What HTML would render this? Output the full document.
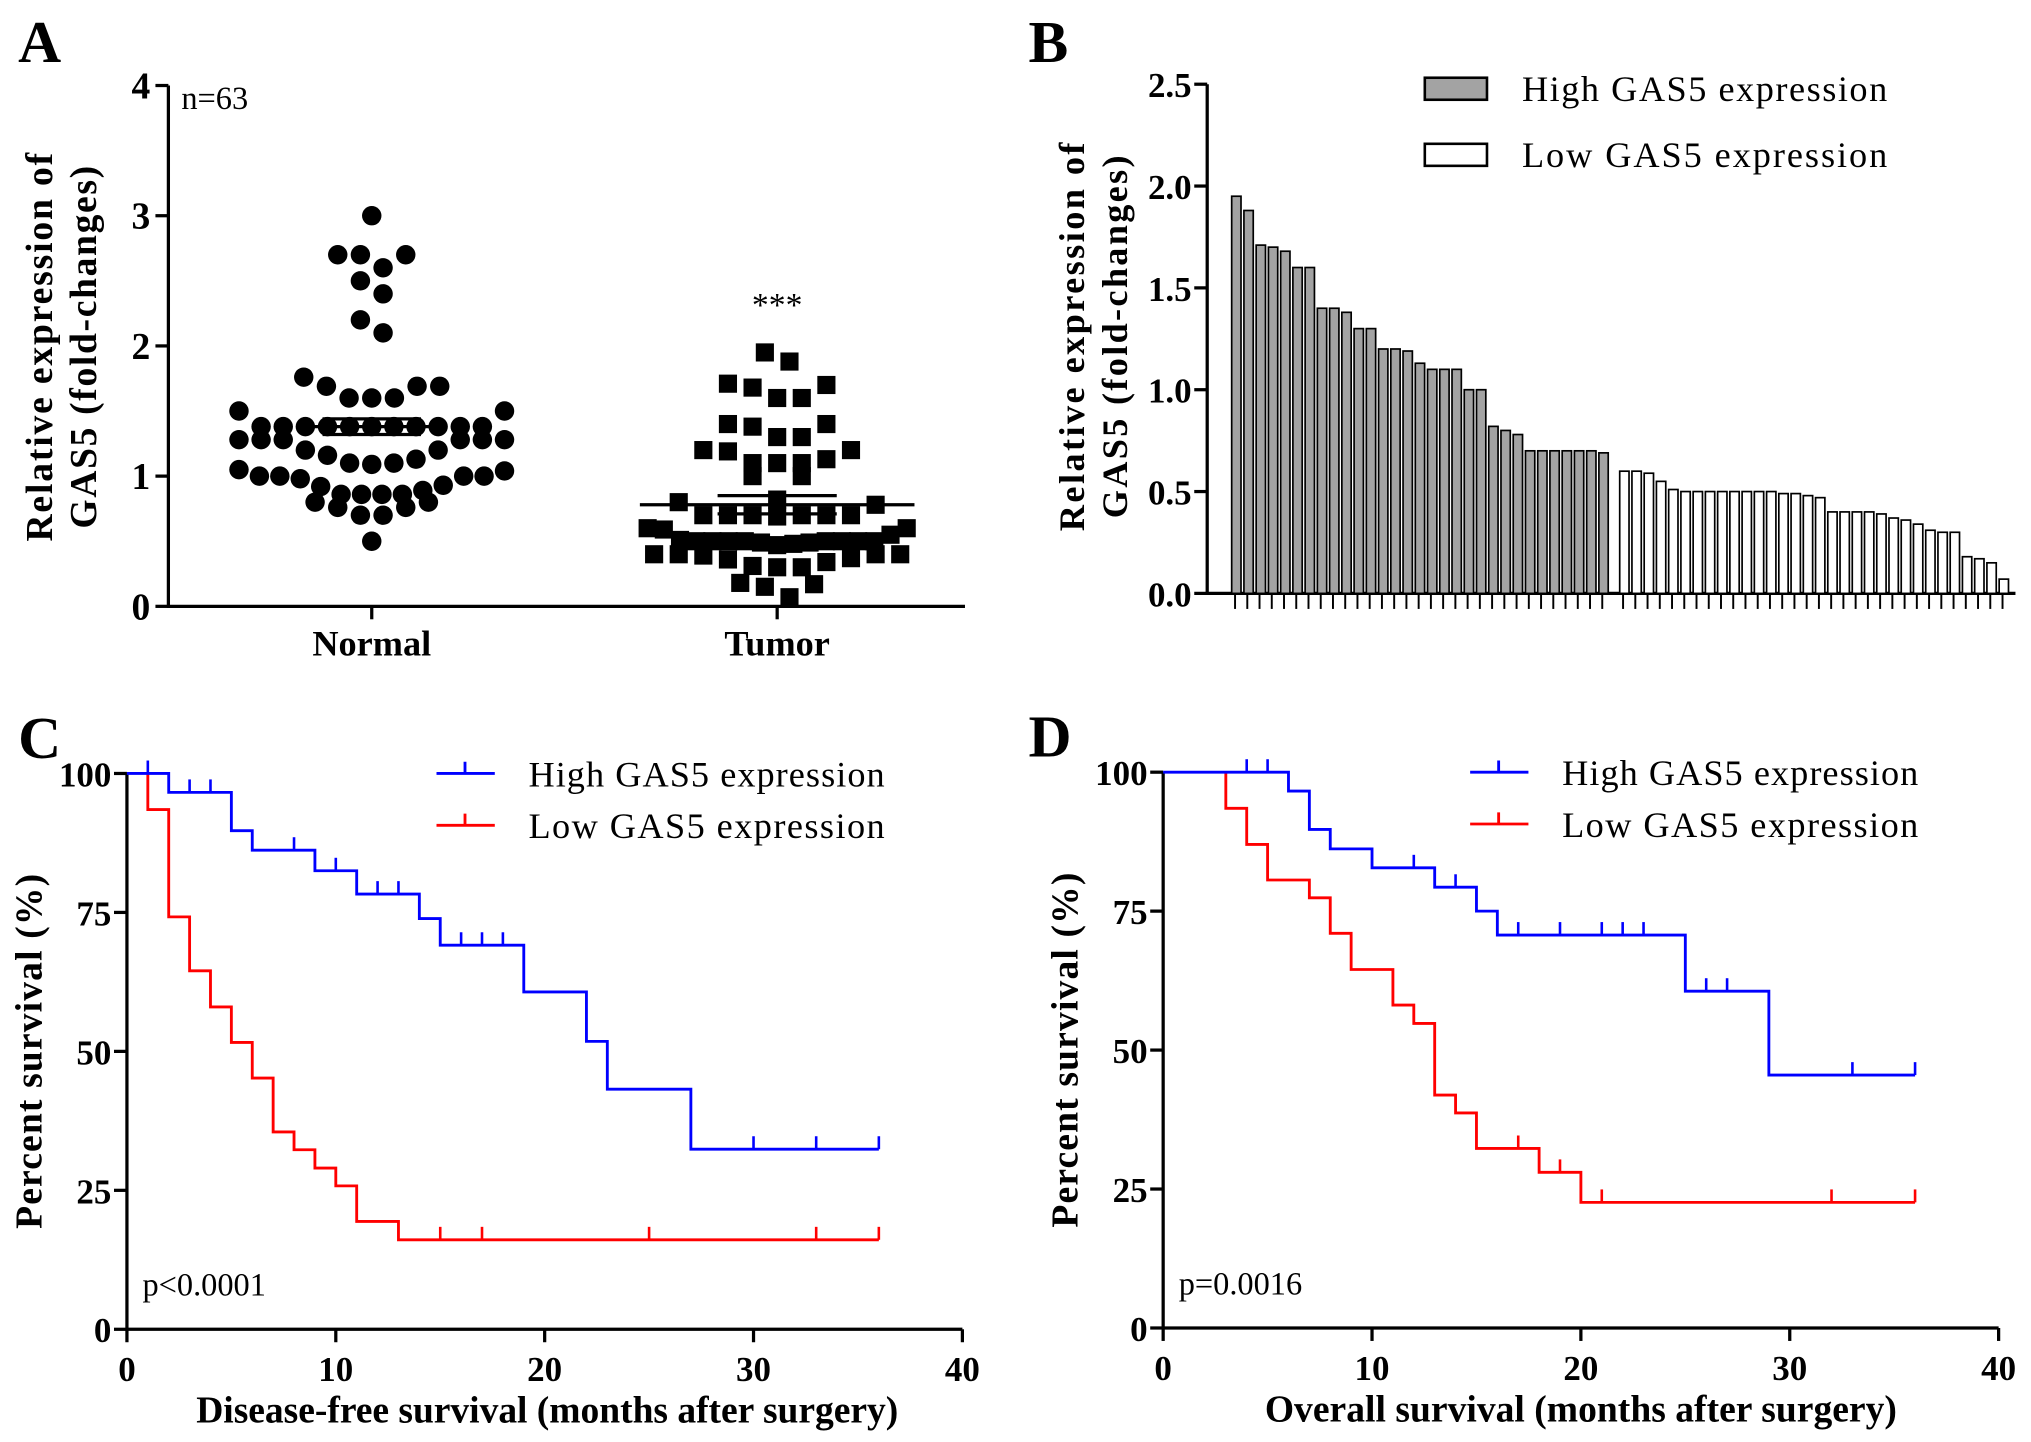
<!DOCTYPE html>
<html><head><meta charset="utf-8"><style>
html,body{margin:0;padding:0;background:#fff;}
svg{display:block;}
text{font-family:"Liberation Serif",serif;fill:#000;}
.b{font-weight:bold;}
</style></head><body>
<svg id="fig" xmlns="http://www.w3.org/2000/svg" width="2031" height="1442" viewBox="0 0 1568 1113" preserveAspectRatio="none">
<g id="pA"></g>
<g id="pB"></g>
<g id="pC"></g>
<g id="pD"></g>
</svg>
<script>
// ---------- data ----------
const normalValues = [3.0,2.7,2.7,2.7,2.6,2.5,2.4,2.2,2.1,1.76,1.69,1.69,1.69,1.6,1.6,1.6,1.5,1.5,
 1.38,1.38,1.38,1.38,1.38,1.38,1.38,1.38,1.38,1.38,1.38,1.28,1.28,1.28,1.28,1.28,1.28,1.2,1.2,
 1.16,1.13,1.1,1.1,1.09,1.05,1.04,1.0,1.0,1.0,1.0,0.98,
 0.93,0.92,0.89,0.86,0.86,0.86,0.86,0.8,0.8,0.76,0.76,0.7,0.7,0.5];
const normalMean = 1.38, normalSem = 0.06;
const tumorMean = 0.78, tumorSem = 0.07;
const highBars = [1.95,1.88,1.71,1.70,1.68,1.60,1.60,1.40,1.40,1.38,1.30,1.30,1.20,1.20,1.19,1.13,1.10,1.10,1.10,1.00,1.00,0.82,0.80,0.78,0.70,0.70,0.70,0.70,0.70,0.70,0.69];
const lowBars = [0.60,0.60,0.59,0.55,0.51,0.50,0.50,0.50,0.50,0.50,0.50,0.50,0.50,0.49,0.49,0.48,0.47,0.40,0.40,0.40,0.40,0.39,0.37,0.36,0.34,0.31,0.30,0.30,0.18,0.17,0.15,0.07];
const tumorValues = highBars.concat(lowBars);
const aTicks = [0,1,2,3,4];
const bTicks = ["0.0","0.5","1.0","1.5","2.0","2.5"];
const kmYTicks = [0,25,50,75,100];
const kmXTicks = [0,10,20,30,40];
const cHighT = [0,2,5,6,9,11,14,15,19,22,23,27], cHighS = [100,96.6,89.7,86.2,82.5,78.3,73.9,69.1,60.7,51.8,43.2,32.4], cHighEnd = 36;
const cHighCens = [1,3,4,8,10,12,13,16,17,18,30,33,36];
const cLowT = [1,2,3,4,5,6,7,8,9,10,11,13], cLowS = [93.5,74.2,64.5,58,51.6,45.2,35.5,32.3,29,25.8,19.4,16.1], cLowEnd = 36, cLowStart = 100;
const cLowCens = [15,17,25,33,36];
const dHighT = [0,6,7,8,10,13,15,16,25,29], dHighS = [100,96.6,89.7,86.2,82.8,79.3,75,70.7,60.6,45.5], dHighEnd = 36;
const dHighCens = [4,5,12,14,17,19,21,22,23,26,27,33,36];
const dLowT = [3,4,5,7,8,9,11,12,13,14,15,18,20], dLowS = [93.5,87,80.6,77.4,71,64.5,58.1,54.8,41.9,38.7,32.3,28,22.6], dLowEnd = 36;
const dLowCens = [17,19,21,32,36];

const NS="http://www.w3.org/2000/svg";
function mk(parent,tag,attrs,txt){const e=document.createElementNS(NS,tag);for(const k in attrs)e.setAttribute(k,attrs[k]);if(txt!==undefined)e.textContent=txt;parent.appendChild(e);return e;}

// ---------- Panel A ----------
(function(){
 const g=document.getElementById('pA');
 const x0=130,xEnd=745,y0=468,yTop=66;
 const y=v=>y0-(v/4)*(y0-yTop);
 const xN=287,xT=600;
 let t=mk(g,'text',{x:14,y:48,'font-size':46,class:'b'},'A');
 
 let ax=mk(g,'path',{d:`M${x0},${yTop} V${y0} H${xEnd}`,stroke:'#000','stroke-width':2.5,fill:'none'});
 
 aTicks.forEach(v=>{
  const tk=mk(g,'line',{x1:x0-10,x2:x0,y1:y(v),y2:y(v),stroke:'#000','stroke-width':2.5});
  
  const l=mk(g,'text',{x:x0-14,y:y(v)+10,'font-size':29,'text-anchor':'end',class:'b'},String(v));
  
 });
 [[xN,'Normal'],[xT,'Tumor']].forEach(([xx,s])=>{
  const tk=mk(g,'line',{x1:xx,x2:xx,y1:y0,y2:y0+10,stroke:'#000','stroke-width':2.5});
  
  const l=mk(g,'text',{x:xx,y:y0+38,'font-size':28,'text-anchor':'middle',class:'b'},s);
  
 });
 const yt=mk(g,'text',{transform:'translate(40,268) rotate(-90)','font-size':29,'text-anchor':'middle',class:'b',textLength:300},'Relative expression of');
 
 const yt2=mk(g,'text',{transform:'translate(74,268) rotate(-90)','font-size':29,'text-anchor':'middle',class:'b',textLength:280},'GAS5 (fold-changes)');
 
 const n=mk(g,'text',{x:140,y:84,'font-size':25},'n=63');
 
 const st=mk(g,'text',{x:xT,y:244,'font-size':26,'text-anchor':'middle'},'***');
 
 function swarm(vals,cx,tol,sp,maxW){
  const s=vals.slice().sort((a,b)=>b-a);const rows=[];
  s.forEach(v=>{const r=rows[rows.length-1];if(r&&r[0]-v<tol)r.push(v);else rows.push([v]);});
  const out=[];
  rows.forEach(r=>{
   const n=r.length;const spc=n>1?Math.min(sp,maxW/(n-1)):sp;
   // highest values at outer positions (V shape)
   const pos=[];let lo=0,hi=n-1,k=0;
   while(lo<=hi){if(k%2===0){pos.push(lo);lo++;}else{pos.push(hi);hi--;}k++;}
   r.forEach((v,i)=>{out.push([cx+(pos[i]-(n-1)/2)*spc,v]);});
  });
  return out;
 }
 swarm(normalValues,xN,0.195,17.5,205).forEach(([px,v])=>{
  const c=mk(g,'circle',{cx:px,cy:y(v),r:7.5,fill:'#000'});
  
 });
 swarm(tumorValues,xT,0.195,19,200).forEach(([px,v])=>{
  const r=mk(g,'rect',{x:px-7,y:y(v)-7,width:14,height:14,fill:'#000'});
  
 });
 [[xN,normalMean,normalSem,52,38],[xT,tumorMean,tumorSem,106,46]].forEach(([cx,m,s,w,ew])=>{
  const ml=mk(g,'path',{d:`M${cx-w},${y(m)} H${cx+w} M${cx-ew},${y(m+s)} H${cx+ew} M${cx-ew},${y(m-s)} H${cx+ew} M${cx},${y(m+s)} V${y(m-s)}`,stroke:'#000','stroke-width':2.5,fill:'none'});
  
 });
})();

// ---------- Panel B ----------
(function(){
 const g=document.getElementById('pB');
 const x0=932,xEnd=1556,y0=458,yTop=65;
 const y=v=>y0-(v/2.5)*(y0-yTop);
 const s=9.45,first=953.5,gap=0.7,bw=7.2;
 let t=mk(g,'text',{x:794,y:48,'font-size':46,class:'b'},'B');
 
 const ax=mk(g,'path',{d:`M${x0},${yTop} V${y0} H${xEnd}`,stroke:'#000','stroke-width':2.5,fill:'none'});
 
 bTicks.forEach(lbl=>{const v=parseFloat(lbl);
  const tk=mk(g,'line',{x1:x0-10,x2:x0,y1:y(v),y2:y(v),stroke:'#000','stroke-width':2.5});
  
  const l=mk(g,'text',{x:x0-12,y:y(v)+10,'font-size':27,'text-anchor':'end',class:'b'},lbl);
  
 });
 const yt=mk(g,'text',{transform:'translate(837,260) rotate(-90)','font-size':28,'text-anchor':'middle',class:'b',textLength:300},'Relative expression of');
 
 const yt2=mk(g,'text',{transform:'translate(870,260) rotate(-90)','font-size':28,'text-anchor':'middle',class:'b',textLength:280},'GAS5 (fold-changes)');
 
 function bar(v,i,extra,fill,name){
  const cx=first+(i+extra)*s;
  const r=mk(g,'rect',{x:cx-bw/2+1,y:y(v),width:bw,height:y0-y(v),fill:fill,stroke:'#000','stroke-width':1.3});
  
  const tk=mk(g,'line',{x1:cx,x2:cx,y1:y0,y2:y0+12,stroke:'#000','stroke-width':1.5});
  
 }
 highBars.forEach((v,i)=>bar(v,i,0,'#a3a3a3','high-bar'));
 lowBars.forEach((v,i)=>bar(v,i+highBars.length,gap,'#fff','low-bar'));
 [[60,'#a3a3a3','High GAS5 expression'],[111,'#fff','Low GAS5 expression']].forEach(([yy,f,s2])=>{
  const r=mk(g,'rect',{x:1100,y:yy,width:48,height:17,fill:f,stroke:'#000','stroke-width':2});
  
  const l=mk(g,'text',{x:1175,y:yy+18,'font-size':28,textLength:282},s2);
  
 });
})();

// ---------- KM panels ----------
function km(gid,letter,x0,xEnd,yTop,y0,xTitle,pText,hi,lo,legX,legY){
 const g=document.getElementById(gid);
 const x=v=>x0+(v/40)*(xEnd-x0), y=v=>y0-(v/100)*(y0-yTop);
 let t=mk(g,'text',{x:letter==='C'?14:794,y:yTop-12,'font-size':46,class:'b'},letter);
 
 const ax=mk(g,'path',{d:`M${x0},${yTop} V${y0} H${xEnd}`,stroke:'#000','stroke-width':2.5,fill:'none'});
 
 kmYTicks.forEach(v=>{
  const tk=mk(g,'line',{x1:x0-10,x2:x0,y1:y(v),y2:y(v),stroke:'#000','stroke-width':2.5});
  
  const l=mk(g,'text',{x:x0-12,y:y(v)+10,'font-size':27,'text-anchor':'end',class:'b'},String(v));
  
 });
 kmXTicks.forEach(v=>{
  const tk=mk(g,'line',{x1:x(v),x2:x(v),y1:y0,y2:y0+10,stroke:'#000','stroke-width':2.5});
  
  const l=mk(g,'text',{x:x(v),y:y0+40,'font-size':27,'text-anchor':'middle',class:'b'},String(v));
  
 });
 const xt=mk(g,'text',{x:(x0+xEnd)/2+(letter==='C'?2:0),y:y0+72,'font-size':29,'text-anchor':'middle',class:'b',textLength:letter==='C'?542:488},xTitle);
 
 const yt=mk(g,'text',{transform:`translate(${x0-66},${(yTop+y0)/2}) rotate(-90)`,'font-size':29,'text-anchor':'middle',class:'b',textLength:274},'Percent survival (%)');
 
 const p=mk(g,'text',{x:x0+12,y:y0-26,'font-size':25},pText);
 
 function curve(T,S,end,cens,startS,color,name){
  let d='';
  if(startS!==undefined){d=`M${x(T[0])},${y(startS)} V${y(S[0])}`;} else d=`M${x(T[0])},${y(S[0])}`;
  for(let i=1;i<T.length;i++){d+=` H${x(T[i])} V${y(S[i])}`;}
  d+=` H${x(end)}`;
  const pth=mk(g,'path',{d:d,stroke:color,'stroke-width':2.2,fill:'none'});
  
  cens.forEach(c=>{let sv=S[0];for(let i=0;i<T.length;i++){if(T[i]<=c)sv=S[i];}
   if(startS!==undefined&&c<T[0])sv=startS;
   const m=mk(g,'line',{x1:x(c),x2:x(c),y1:y(sv),y2:y(sv)-10,stroke:color,'stroke-width':2});
   });
 }
 curve(lo.T,lo.S,lo.end,lo.cens,lo.start,'#ff0000','low-gas5');
 curve(hi.T,hi.S,hi.end,hi.cens,undefined,'#0000ff','high-gas5');
 [[legY,'#0000ff','High GAS5 expression'],[legY+40,'#ff0000','Low GAS5 expression']].forEach(([yy,c,s])=>{
  const l1=mk(g,'path',{d:`M${legX},${yy} H${legX+45} M${legX+22},${yy} V${yy-9}`,stroke:c,'stroke-width':2.2,fill:'none'});
  
  const l=mk(g,'text',{x:legX+71,y:yy+10,'font-size':28,textLength:275},s);
  
 });
}
km('pC','C',98,743,597,1026,'Disease-free survival (months after surgery)','p<0.0001',
 {T:cHighT,S:cHighS,end:cHighEnd,cens:cHighCens},{T:cLowT,S:cLowS,end:cLowEnd,cens:cLowCens,start:cLowStart},337,597);
km('pD','D',898,1543,596,1025,'Overall survival (months after surgery)','p=0.0016',
 {T:dHighT,S:dHighS,end:dHighEnd,cens:dHighCens},{T:dLowT,S:dLowS,end:dLowEnd,cens:dLowCens,start:100},1135,596);
</script>
</body></html>
